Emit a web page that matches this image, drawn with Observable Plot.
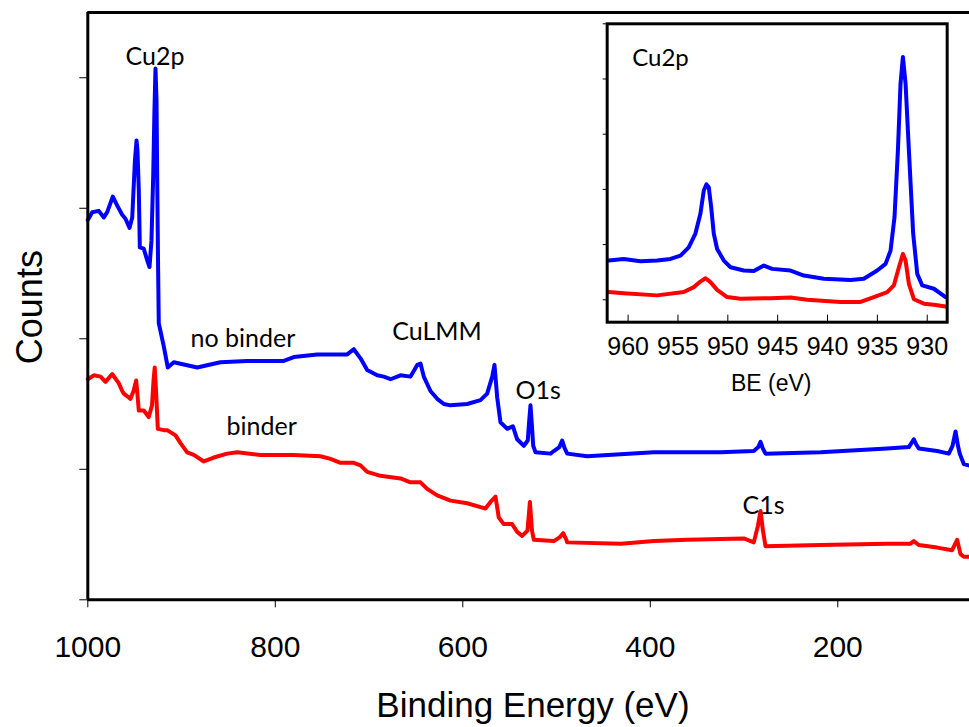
<!DOCTYPE html>
<html>
<head>
<meta charset="utf-8">
<script src="https://cdn.jsdelivr.net/npm/d3@7"></script>
<script src="https://cdn.jsdelivr.net/npm/@observablehq/plot@0.6"></script>
<style>
  body { margin: 0; background: #fff; }
  #chart { position: relative; width: 969px; height: 727px; overflow: hidden; background: #fff; }
</style>
</head>
<body>
<div id="chart"></div>
<script>
// XPS survey spectra: Cu electrode without binder (blue) and with binder (red)
const surveyNoBinderE = [1000, 995.3, 988.3, 982.9, 979.3, 973.3, 968.6, 963.3, 959.8, 955.5, 952.6, 949.7, 948.0, 947.0, 945.6, 944.5, 940.3, 936.6, 934.2, 932.1, 930.2, 928.9, 927.8, 926.7, 926.0, 925.1, 924.3, 918.9, 914.7, 908.3, 883.3, 858.5, 830.0, 790.9, 780.3, 755.3, 723.3, 716.3, 709.1, 702.0, 691.3, 684.3, 677.1, 666.5, 655.8, 648.6, 645.1, 641.6, 634.5, 627.3, 620.2, 613.1, 595.3, 581.1, 574.0, 568.6, 566.2, 563.3, 559.8, 552.6, 546.6, 542.0, 534.9, 530.7, 529.3, 527.8, 526.3, 524.9, 522.4, 506.4, 502.9, 497.0, 494.0, 491.3, 488.6, 467.3, 396.2, 325.1, 289.6, 284.8, 282.4, 280.0, 277.1, 218.4, 147.3, 124.2, 121.5, 118.9, 116.3, 113.6, 94.0, 81.6, 77.6, 74.4, 71.8, 69.9, 65.6, 60.4];
const surveyNoBinderCounts = [2.91, 2.97, 2.98, 2.93, 2.97, 3.09, 3.02, 2.95, 2.92, 2.85, 2.93, 3.37, 3.52, 3.44, 3.14, 2.70, 2.69, 2.60, 2.55, 2.75, 3.26, 3.75, 4.07, 3.83, 3.26, 2.60, 2.12, 1.94, 1.78, 1.82, 1.78, 1.82, 1.83, 1.83, 1.86, 1.88, 1.88, 1.92, 1.85, 1.76, 1.72, 1.71, 1.69, 1.72, 1.71, 1.80, 1.81, 1.71, 1.60, 1.54, 1.50, 1.49, 1.50, 1.53, 1.58, 1.71, 1.80, 1.55, 1.36, 1.31, 1.33, 1.23, 1.18, 1.22, 1.36, 1.49, 1.34, 1.18, 1.13, 1.12, 1.14, 1.17, 1.22, 1.16, 1.12, 1.10, 1.13, 1.13, 1.14, 1.17, 1.21, 1.16, 1.12, 1.13, 1.16, 1.17, 1.20, 1.23, 1.19, 1.16, 1.14, 1.12, 1.18, 1.29, 1.18, 1.12, 1.04, 1.03];

const surveyBinderE = [1000, 993.6, 986.4, 981.1, 974.0, 967.0, 963.3, 961.6, 956.3, 954.5, 951.2, 948.4, 947.0, 945.6, 940.3, 935.0, 931.5, 929.9, 928.6, 927.2, 925.3, 918.9, 915.3, 906.4, 901.1, 894.0, 886.9, 876.3, 865.6, 851.3, 840.6, 815.8, 780.3, 751.8, 741.1, 730.4, 716.3, 709.1, 702.0, 687.8, 666.5, 655.8, 645.1, 638.0, 627.3, 613.1, 595.3, 581.1, 575.8, 570.4, 565.1, 561.6, 556.3, 547.4, 542.0, 536.7, 531.0, 528.4, 526.2, 524.2, 502.9, 496.5, 492.9, 489.5, 488.6, 431.3, 396.2, 360.6, 300.3, 289.6, 285.1, 282.4, 279.8, 277.1, 218.4, 147.3, 122.4, 118.9, 113.6, 94.0, 78.0, 72.7, 69.1, 65.6, 60.4];
const surveyBinderCounts = [1.69, 1.72, 1.71, 1.67, 1.73, 1.66, 1.60, 1.58, 1.55, 1.54, 1.60, 1.68, 1.57, 1.45, 1.45, 1.40, 1.49, 1.68, 1.78, 1.60, 1.31, 1.30, 1.30, 1.26, 1.20, 1.13, 1.11, 1.06, 1.09, 1.12, 1.13, 1.11, 1.11, 1.10, 1.08, 1.05, 1.05, 1.03, 0.98, 0.95, 0.93, 0.90, 0.90, 0.85, 0.80, 0.76, 0.74, 0.71, 0.70, 0.75, 0.79, 0.63, 0.58, 0.58, 0.52, 0.49, 0.53, 0.75, 0.53, 0.46, 0.45, 0.48, 0.51, 0.46, 0.44, 0.43, 0.45, 0.46, 0.47, 0.44, 0.57, 0.68, 0.53, 0.41, 0.42, 0.43, 0.43, 0.45, 0.42, 0.40, 0.38, 0.46, 0.35, 0.33, 0.33];

// High-resolution Cu 2p window (inset)
const cu2pNoBinderE = [961.94, 960.44, 958.76, 957.09, 955.75, 954.75, 953.92, 953.25, 952.75, 952.41, 952.14, 951.91, 951.67, 951.41, 951.07, 950.40, 949.73, 948.40, 947.39, 946.39, 945.55, 943.71, 942.37, 940.37, 937.69, 936.36, 935.02, 934.18, 933.68, 933.28, 932.94, 932.68, 932.44, 932.17, 931.84, 931.41, 931.00, 930.50, 929.33, 928.16];
const cu2pNoBinderCounts = [0.71, 0.74, 0.70, 0.71, 0.74, 0.80, 0.95, 1.20, 1.56, 1.98, 2.09, 2.04, 1.68, 1.20, 0.92, 0.71, 0.59, 0.53, 0.52, 0.62, 0.56, 0.53, 0.44, 0.38, 0.36, 0.38, 0.53, 0.65, 0.89, 1.50, 2.71, 3.91, 4.40, 3.91, 2.71, 1.20, 0.47, 0.26, 0.20, 0.05];

const cu2pBinderE = [961.94, 960.44, 957.09, 954.42, 953.41, 952.75, 952.24, 951.74, 951.07, 950.07, 948.73, 945.72, 943.71, 942.04, 938.70, 936.69, 935.35, 934.01, 933.35, 932.84, 932.44, 932.17, 931.84, 931.34, 930.33, 929.33, 928.16];
const cu2pBinderCounts = [0.14, 0.12, 0.08, 0.14, 0.23, 0.33, 0.39, 0.32, 0.18, 0.05, 0.02, 0.03, 0.04, 0.00, -0.04, -0.04, 0.05, 0.14, 0.26, 0.59, 0.83, 0.71, 0.29, 0.01, -0.07, -0.09, -0.12];

// Axis ticks
const surveyTicks = [1000, 800, 600, 400, 200];
const countTicks = [0, 1, 2, 3, 4];
const cu2pTicks = [960, 955, 950, 945, 940, 935, 930];
const cu2pCountTicks = [0, 1, 2, 3, 4, 5];

// Peak annotations on the survey (left edge, baseline)
const peakLabels = ["Cu2p", "no binder", "binder", "CuLMM", "O1s", "C1s"];
const peakLabelE = [959.8, 890.4, 852.0, 675.3, 543.8, 301.6];
const peakLabelCounts = [4.10, 1.94, 1.26, 1.99, 1.54, 0.66];

const toRows = (es, cs) => es.map((e, i) => ({e, c: cs[i]}));
const surveyNoBinder = toRows(surveyNoBinderE, surveyNoBinderCounts);
const surveyBinder = toRows(surveyBinderE, surveyBinderCounts);
const cu2pNoBinder = toRows(cu2pNoBinderE, cu2pNoBinderCounts);
const cu2pBinder = toRows(cu2pBinderE, cu2pBinderCounts);
const annotations = peakLabels.map((t, i) => ({t, e: peakLabelE[i], c: peakLabelCounts[i]}));

const BLUE = "#0000ff";
const RED = "#ff0000";
const SANS = "'Liberation Sans', Arial, Helvetica, sans-serif";
const NARROW = "'Liberation Sans Narrow', 'Arial Narrow', 'Liberation Sans', Arial, sans-serif";
const CALLOUT = "Lato, Carlito, Calibri, 'Open Sans', sans-serif";

const survey = Plot.plot({
  width: 969,
  height: 727,
  marginLeft: 87.3,
  marginRight: 0,
  marginTop: 12,
  marginBottom: 127.7,
  x: {domain: [1000, 59.5], axis: null},
  y: {domain: [0, 4.5], axis: null},
  style: {position: "absolute", left: "0px", top: "0px", background: "transparent", color: "black", fontFamily: SANS, overflow: "visible"},
  marks: [
    Plot.line(surveyNoBinder, {x: "e", y: "c", stroke: BLUE, strokeWidth: 4, strokeLinejoin: "round"}),
    Plot.line(surveyBinder, {x: "e", y: "c", stroke: RED, strokeWidth: 4, strokeLinejoin: "round"}),
    Plot.ruleX([1000], {strokeWidth: 3}),
    Plot.ruleY([0], {strokeWidth: 3}),
    Plot.ruleY([4.5], {strokeWidth: 3}),
    Plot.axisX(surveyTicks, {tickSize: 8, tickPadding: 27.7, fontSize: 30, fontFamily: SANS, tickFormat: d => String(d), label: null}),
    Plot.axisY(countTicks, {tickSize: 8, tickFormat: () => "", label: null}),
    Plot.text(annotations, {x: "e", y: "c", text: "t", textAnchor: "start", lineAnchor: "bottom", fontSize: 25, fontFamily: CALLOUT, fill: "black"}),
    Plot.text(["Binding Energy (eV)"], {text: d => d, frameAnchor: "bottom", dx: 4.3, dy: 117.4, lineAnchor: "bottom", fontSize: 35, fontFamily: SANS, fill: "black"}),
    Plot.text(["Counts"], {text: d => d, frameAnchor: "left", rotate: -90, dx: -45.6, dy: 1, lineAnchor: "bottom", textAnchor: "middle", fontSize: 36, fontFamily: SANS, fill: "black"})
  ]
});

// Inset frame geometry
const insetW = 409, insetH = 400, insetTop = 23.3, insetBottom = 78.3;
const insetFrameH = insetH - insetTop - insetBottom;

const cu2p = Plot.plot({
  width: insetW,
  height: insetH,
  marginLeft: 46.67,
  marginRight: 22.33,
  marginTop: insetTop,
  marginBottom: insetBottom,
  x: {domain: [962.1, 928], axis: null},
  y: {domain: [-0.406, 5], axis: null},
  style: {position: "absolute", left: "560px", top: "0px", background: "transparent", color: "black", fontFamily: SANS, overflow: "visible"},
  marks: [
    Plot.line(cu2pNoBinder, {x: "e", y: "c", stroke: BLUE, strokeWidth: 4, strokeLinejoin: "round"}),
    Plot.line(cu2pBinder, {x: "e", y: "c", stroke: RED, strokeWidth: 4, strokeLinejoin: "round"}),
    Plot.frame({strokeWidth: 3}),
    Plot.ruleX(cu2pTicks, {x: d => d, insetTop: insetFrameH - 7, strokeWidth: 1}),
    Plot.axisY(cu2pCountTicks, {tickSize: 4, tickFormat: () => "", label: null}),
    Plot.axisX(cu2pTicks, {tickSize: 0, tickPadding: 15, fontSize: 25, fontFamily: NARROW, tickFormat: d => String(d), label: null}),
    Plot.text(["BE (eV)"], {text: d => d, frameAnchor: "bottom", dx: -6, dy: 68.3, lineAnchor: "bottom", fontSize: 23, fontFamily: SANS, fill: "black"}),
    Plot.text(["Cu2p"], {text: d => d, frameAnchor: "top-left", dx: 25, dy: 41.7, textAnchor: "start", lineAnchor: "bottom", fontSize: 24, fontFamily: CALLOUT, fill: "black"})
  ]
});

const chart = document.getElementById("chart");
chart.appendChild(survey);
chart.appendChild(cu2p);
</script>
</body>
</html>
